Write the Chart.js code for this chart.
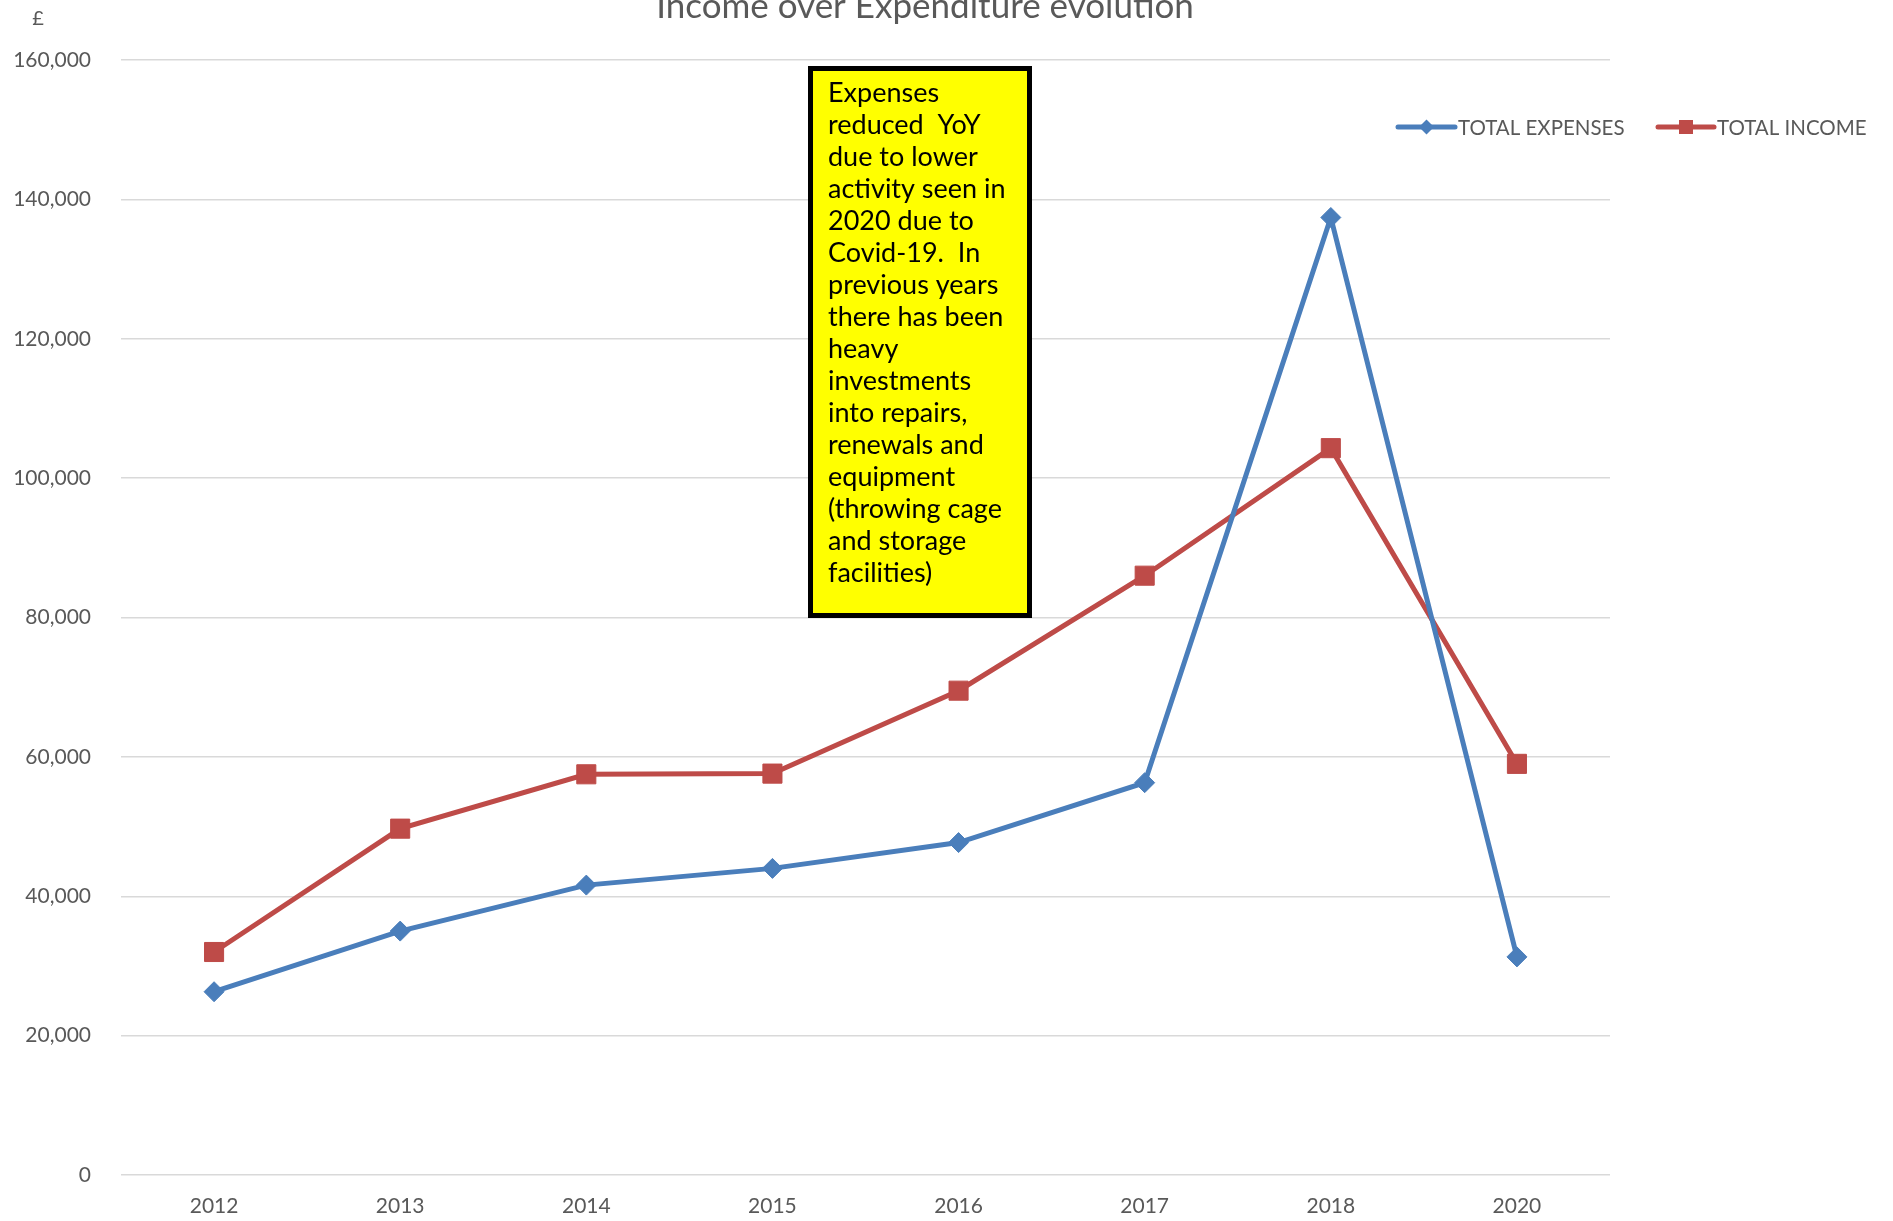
<!DOCTYPE html>
<html>
<head>
<meta charset="utf-8">
<script src="https://cdn.jsdelivr.net/npm/chart.js@4.4.0/dist/chart.umd.min.js"></script>
<style>
  body { margin: 0; background: #fff; }
  #wrap { width: 1893px; height: 1221px; position: relative; }
</style>
</head>
<body>
<div id="wrap"><canvas id="ieChart" width="1893" height="1221"></canvas></div>
<script>
// data
const years = ['2012', '2013', '2014', '2015', '2016', '2017', '2018', '2020'];
const totalExpenses = [26300, 35000, 41600, 44000, 47700, 56300, 137400, 31300];
const totalIncome = [32000, 49700, 57500, 57600, 69500, 86000, 104300, 59000];
const yTicks = [0, 20000, 40000, 60000, 80000, 100000, 120000, 140000, 160000];

const titleText = 'Income over Expenditure evolution';
const unitText = '£';
const noteLines = ['Expenses', 'reduced  YoY', 'due to lower', 'activity seen in', '2020 due to',
  'Covid-19.  In', 'previous years', 'there has been', 'heavy', 'investments', 'into repairs,',
  'renewals and', 'equipment', '(throwing cage', 'and storage', 'facilities)'];

const FONT = 'Lato, "Open Sans", sans-serif';
const GREY = '#595959';
const BLUE = '#4a7ebb';
const RED = '#be4b48';

// title, £ label, note box and legend
const extras = {
  id: 'extras',
  afterDraw(chart) {
    const ctx = chart.ctx;
    ctx.save();
    ctx.fillStyle = GREY;
    ctx.textAlign = 'center';
    ctx.textBaseline = 'alphabetic';
    ctx.font = '35px ' + FONT;
    ctx.fillText(titleText, 925, 18);
    ctx.font = '20px ' + FONT;
    ctx.fillText(unitText, 38, 25);

    // yellow note
    ctx.fillStyle = '#ffff00';
    ctx.fillRect(808, 66, 224, 552);
    ctx.lineWidth = 5;
    ctx.strokeStyle = '#000';
    ctx.strokeRect(810.5, 68.5, 219, 547);
    ctx.fillStyle = '#000';
    ctx.textAlign = 'left';
    ctx.textBaseline = 'middle';
    ctx.font = '27px ' + FONT;
    noteLines.forEach((l, i) => ctx.fillText(l, 828, 93 + i * 32));

    // legend
    const items = [[1398, 1455], [1658, 1714]];
    chart.data.datasets.forEach((ds, i) => {
      const [x0, x1] = items[i];
      const y = 127, cx = (x0 + x1) / 2;
      ctx.strokeStyle = ds.borderColor;
      ctx.lineWidth = 5;
      ctx.lineCap = 'round';
      ctx.beginPath(); ctx.moveTo(x0, y); ctx.lineTo(x1, y); ctx.stroke();
      ctx.fillStyle = ds.borderColor;
      ctx.beginPath();
      if (ds.pointStyle === 'rectRot') {
        ctx.moveTo(cx - 7.5, y); ctx.lineTo(cx, y - 7.5); ctx.lineTo(cx + 7.5, y); ctx.lineTo(cx, y + 7.5);
      } else {
        ctx.rect(cx - 7, y - 7, 14, 14);
      }
      ctx.fill();
      ctx.fillStyle = GREY;
      ctx.font = '20.5px ' + FONT;
      ctx.textAlign = 'left';
      ctx.fillText(ds.label, x1 + 3, y + 1);
    });
    ctx.restore();
  }
};

new Chart(document.getElementById('ieChart'), {
  type: 'line',
  data: {
    labels: years,
    datasets: [{
      label: 'TOTAL EXPENSES',
      data: totalExpenses,
      borderColor: BLUE,
      backgroundColor: BLUE,
      borderWidth: 5,
      pointStyle: 'rectRot',
      pointRadius: 10,
      pointBorderWidth: 1,
      pointBorderColor: BLUE,
      pointBackgroundColor: BLUE,
      tension: 0
    }, {
      label: 'TOTAL INCOME',
      data: totalIncome,
      borderColor: RED,
      backgroundColor: RED,
      borderWidth: 5,
      pointStyle: 'rect',
      pointRadius: 13.5,
      pointBorderWidth: 1,
      pointBorderColor: RED,
      pointBackgroundColor: RED,
      tension: 0
    }]
  },
  options: {
    responsive: false,
    animation: false,
    layout: { padding: { top: 60, right: 283, left: 0, bottom: 0 } },
    plugins: { legend: { display: false }, title: { display: false }, tooltip: { enabled: false } },
    scales: {
      x: {
        offset: true,
        grid: { display: false, drawTicks: false },
        border: { display: false },
        ticks: { color: GREY, font: { family: FONT, size: 21 }, padding: 19 },
        afterFit: s => { s.height = 46; }
      },
      y: {
        min: 0,
        max: 160000,
        afterBuildTicks: s => { s.ticks = yTicks.map(v => ({ value: v })); },
        grid: { color: '#d9d9d9', lineWidth: 1.5, drawTicks: false },
        border: { display: false },
        ticks: {
          color: GREY,
          font: { family: FONT, size: 21 },
          padding: 30,
          callback: v => v.toLocaleString('en-US')
        },
        afterFit: s => { s.width = 121; }
      }
    }
  },
  plugins: [extras]
});
</script>
</body>
</html>
